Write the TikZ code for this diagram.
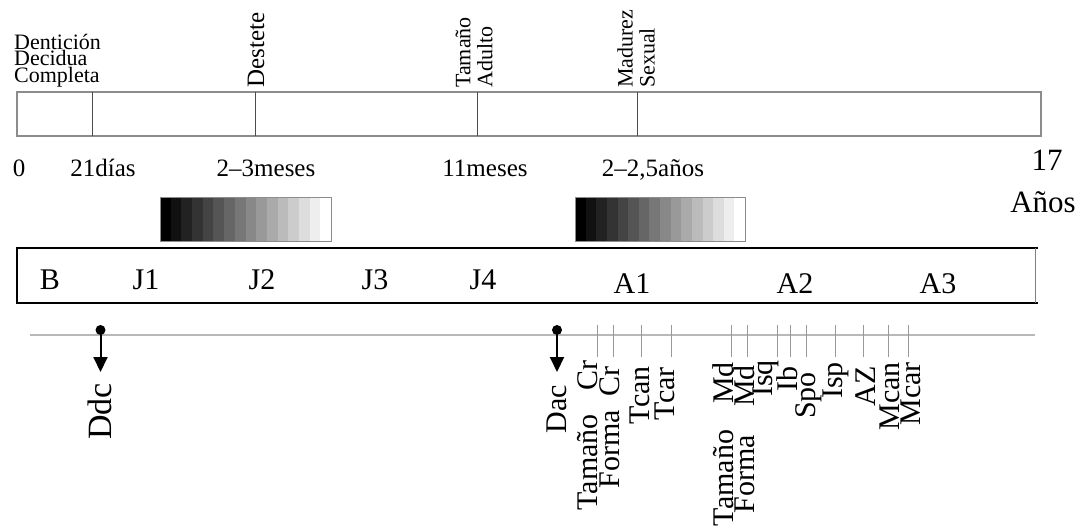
\documentclass[tikz,border=0pt]{standalone}
\usepackage{fontspec}
\setmainfont{Liberation Serif}
\usetikzlibrary{arrows.meta}
\begin{document}
\begin{tikzpicture}[x=1pt,y=-1pt,
  toplbl/.style={rotate=90,anchor=west,align=left,inner sep=0pt,font=\fontsize{22}{22}\selectfont},
  numlbl/.style={anchor=base,inner sep=0pt,font=\fontsize{25}{27}\selectfont},
  biglbl/.style={anchor=base,inner sep=0pt,font=\fontsize{31}{33}\selectfont},
  stagelbl/.style={anchor=base,inner sep=0pt,font=\fontsize{30}{32}\selectfont},
  vlbl/.style={rotate=90,anchor=east,inner sep=0pt,font=\fontsize{30}{32}\selectfont},
  tickline/.style={draw=black!40,line width=0.8pt},
  divider/.style={draw=black!70,line width=0.8pt},
  gradframe/.style={draw=black!45,line width=0.8pt},
  evarrow/.style={line width=2pt,-{Triangle[length=15pt,width=14pt]}},
  evdot/.style={circle,fill=black,inner sep=0pt,minimum size=10pt},
]
\useasboundingbox (0,0) rectangle (1083,527);

% ---- top bar with milestones
\draw[draw=black!45,line width=1.2pt] (17,92) rectangle (1041,136);
\foreach \xx/\nm in {92/d1,255/d2,477/d3,637/d4}{
  \coordinate (\nm top) at (\xx,92);
  \coordinate (\nm bot) at (\xx,136);
  \draw[divider] (\nm top) -- (\nm bot);
}
\node[anchor=north west,align=left,inner sep=0pt,font=\fontsize{22}{14}\selectfont] (ddcomp) at (14,34) {Dentición\\Decidua\\Completa};
\node[toplbl,font=\fontsize{25}{25}\selectfont] (destete) at (256,88) {Destete};
\node[toplbl] (tamad) at (474,88) {Tamaño\\Adulto};
\node[toplbl] (madsex) at (636,88) {Madurez\\Sexual};

% ---- ages
\node[numlbl] (n0) at (19,176) {0};
\node[numlbl] (n21) at (103,176) {21días};
\node[numlbl] (n23) at (266,176) {2–3meses};
\node[numlbl] (n11) at (485,176) {11meses};
\node[numlbl] (n225) at (653,176) {2–2,5años};
\node[biglbl] (n17) at (1047,170) {17};
\node[biglbl] (anos) at (1043,212) {Años};

% ---- gradients
\foreach \i in {0,...,15}{
  \pgfmathsetmacro\w{100*\i/15}
  \fill[white!\w!black] ({160+\i*10.6875},197) rectangle ({160+(\i+1)*10.6875},241);
  \fill[white!\w!black] ({575+\i*10.625},197) rectangle ({575+(\i+1)*10.625},241);
}
\draw[gradframe] (160,197) rectangle (331,241);
\draw[gradframe] (575,197) rectangle (745,241);

% ---- stage bar
\draw[line width=2pt,line cap=rect] (1037,248) -- (17,248) -- (17,303) -- (1037,303);
\draw[draw=black!50,line width=0.8pt] (1035,248) -- (1035,303);
\foreach \xx/\tt in {50/B,146/J1,262/J2,375/J3,483/J4}{
  \node[stagelbl] (st\tt) at (\xx,289) {\tt};
}
\foreach \xx/\tt in {632/A1,795/A2,938/A3}{
  \node[stagelbl] (st\tt) at (\xx,293) {\tt};
}

% ---- lower timeline
\coordinate (tlstart) at (30,335);
\coordinate (tlend) at (1035,335);
\draw[draw=black!28,line width=2pt] (tlstart) -- (tlend);

\node[evdot] (ddcdot) at (100.5,330) {};
\coordinate (ddctip) at (100.5,372);
\draw[evarrow] (ddcdot.center) -- (ddctip);
\node[vlbl,font=\fontsize{34}{36}\selectfont] (ddc) at (100,383) {Ddc};

\node[evdot] (dacdot) at (557,330) {};
\coordinate (dactip) at (557,372);
\draw[evarrow] (dacdot.center) -- (dactip);
\node[vlbl] (dac) at (557,385) {Dac};

\foreach \tx/\lx/\ly/\nm/\tt in {
  597/588/360/tcr/Tamaño\hspace{24pt}Cr,
  613/610/366/fcr/Forma\hspace{14pt}Cr,
  641/640/366/tcan/Tcan,
  671/665/367/tcar/Tcar,
  731/723/362/tmd/Tamaño\hspace{26pt}Md,
  747/744/365/fmd/Forma\hspace{28pt}Md,
  777/766/360/isq/Isq,
  790/787/366/ib/Ib,
  806/809/372/spo/Spo,
  835/836/362/isp/Isp,
  863/866/366/az/AZ,
  888/890/362/mcan/Mcan,
  908/911/362/mcar/Mcar}{
  \coordinate (\nm a) at (\tx,325);
  \coordinate (\nm b) at (\tx,357);
  \draw[tickline] (\nm a) -- (\nm b);
  \node[vlbl] (\nm) at (\lx,\ly) {\tt};
}
\end{tikzpicture}
\end{document}
